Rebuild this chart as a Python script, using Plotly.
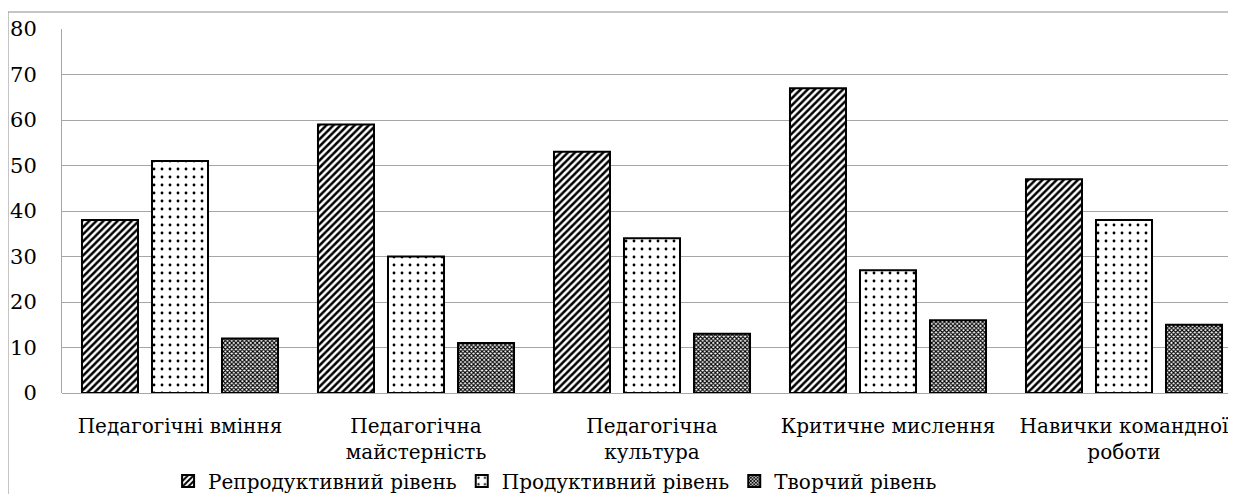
import plotly.graph_objects as go

categories = ["Педагогічні вміння", "Педагогічна<br>майстерність", "Педагогічна<br>культура",
              "Критичне мислення", "Навички командної<br>роботи"]
series_names = ["Репродуктивний рівень", "Продуктивний рівень", "Творчий рівень"]
reproductive = [38, 59, 53, 67, 47]
productive = [51, 30, 34, 27, 38]
creative = [12, 11, 13, 16, 15]
y_ticks = [0, 10, 20, 30, 40, 50, 60, 70, 80]

FONT = "DejaVu Serif"

patterns = [
    dict(shape="/", size=5, solidity=0.5, fgcolor="black", bgcolor="white", fillmode="replace"),
    dict(shape=".", size=8, solidity=0.1, fgcolor="black", bgcolor="white", fillmode="replace"),
    dict(shape="x", size=3, solidity=0.6, fgcolor="black", bgcolor="white", fillmode="replace"),
]

fig = go.Figure()
for name, vals, pat in zip(series_names, [reproductive, productive, creative], patterns):
    fig.add_trace(go.Bar(
        x=categories, y=vals, name=name,
        marker=dict(color="white", pattern=pat, line=dict(color="black", width=2)),
    ))

# page has an 8px body margin; compensate
OFF = 8
W, H = 1236 - OFF, 494 - OFF
L, T, B = 62 - OFF, 29 - OFF, 393 - OFF
plot_w = W - L
plot_h = B - T
ncat_visible = plot_w / 236.0

fig.update_layout(
    width=W, height=H,
    margin=dict(l=L, r=0, t=T, b=H - B, autoexpand=False),
    paper_bgcolor="white", plot_bgcolor="white",
    barmode="group", bargap=0.11, bargroupgap=0.2,
    font=dict(family=FONT, size=20, color="black"),
    showlegend=True,
    legend=dict(orientation="h", x=0.42, xanchor="center", y=(B - (481 - OFF)) / plot_h, yanchor="middle",
                font=dict(family=FONT, size=20, color="black"), bgcolor="rgba(0,0,0,0)",
                itemsizing="constant", itemwidth=30, tracegroupgap=0),
    xaxis=dict(range=[-0.5, -0.5 + ncat_visible], showgrid=False, showline=False, automargin=False,
               ticks="", tickfont=dict(family=FONT, size=20), ticklabelstandoff=19),
    yaxis=dict(range=[0, 80], tickvals=y_ticks, showgrid=True, gridcolor="#a6a6a6", gridwidth=1,
               showline=True, linecolor="#a6a6a6", linewidth=1, ticks="", zeroline=True,
               zerolinecolor="#a6a6a6", zerolinewidth=1, automargin=False,
               tickfont=dict(family=FONT, size=21), ticklabelstandoff=20),
    shapes=[dict(type="rect", xref="paper", yref="paper",
                 x0=(8 - 62) / plot_w, x1=1.2, y0=-0.4, y1=(393 - 12) / plot_h,
                 line=dict(color="#8c8c8c", width=1), layer="below")],
)

fig.write_html("out.html")
